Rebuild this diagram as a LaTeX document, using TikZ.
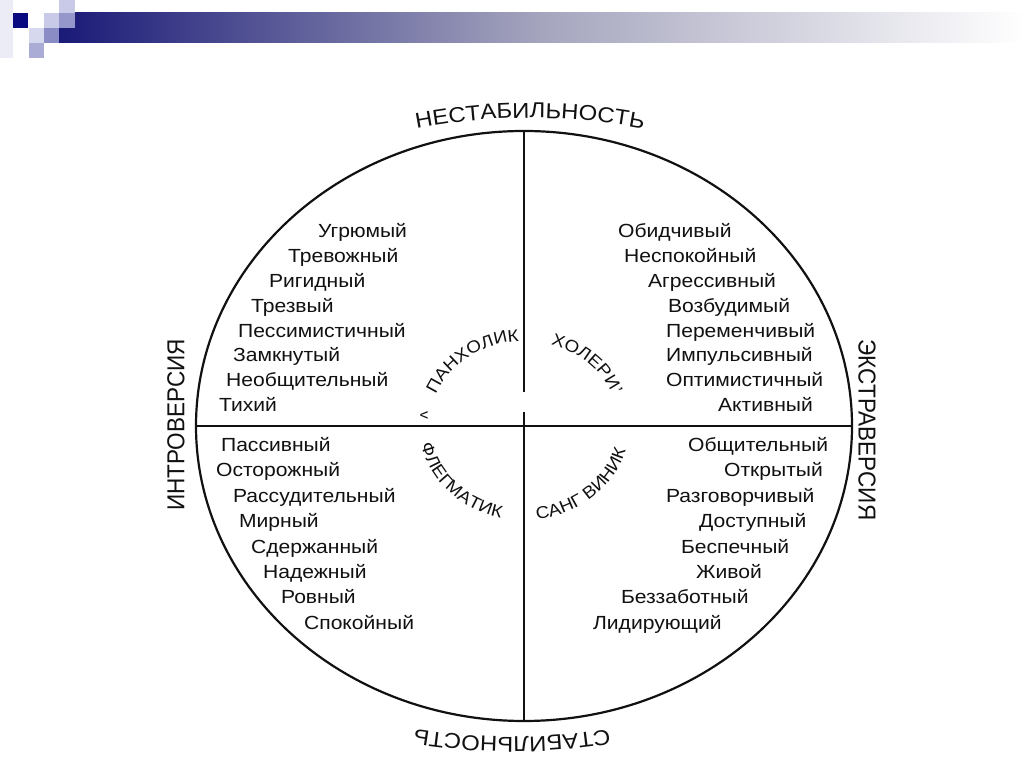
\documentclass[tikz,border=0pt]{standalone}
\usepackage{fontspec}
\setmainfont{Liberation Sans}[FakeStretch=1.11]
\newfontfamily\sidefont{Liberation Sans}[FakeStretch=0.92]
\usepackage{tikz}
\usetikzlibrary{decorations.text}
\definecolor{ink}{HTML}{111111}
\definecolor{navy}{HTML}{1A1A78}
\definecolor{deepnavy}{HTML}{0A0A80}
\definecolor{lilac}{HTML}{C8CAE8}
\definecolor{palelilac}{HTML}{D6D8EE}
\definecolor{mauve}{HTML}{9597CA}
\definecolor{faint}{HTML}{ECECF6}
\newcommand{\wordfont}{\fontsize{19}{19}\selectfont}
\newcommand{\ringfont}{\fontsize{17}{17}\selectfont}
\newcommand{\axisfont}{\fontsize{21.5}{22}\selectfont}
\tikzset{
  word/.style={anchor=base west,inner sep=0pt,font=\wordfont,text=ink},
  side/.style={inner sep=0pt,font=\sidefont\fontsize{24.5}{24.5}\selectfont,text=ink},
  ringtext/.style={decorate,decoration={text along path,text align=center,text color=ink,text={|\ringfont|#1}}},
  axistext/.style={decorate,decoration={text along path,text align=center,text color=ink,text={|\axisfont|#1}}},
}

\begin{document}
\begin{tikzpicture}[x=1pt,y=1pt,line width=2.2pt]
  \useasboundingbox (0,0) rectangle (1024,767);
  \fill[white] (0,0) rectangle (1024,767);
  \shade[left color=navy,right color=white,middle color={rgb,255:red,165;green,165;blue,190}] (59,724) rectangle (1024,754);
  \fill[faint] (0,709) rectangle (13,767);
  \fill[deepnavy] (13,739) rectangle (28,754);
  \fill[lilac] (44,739) rectangle (59,754);
  \fill[lilac] (59,754) rectangle (75,767);
  \fill[mauve] (59,739) rectangle (75,754);
  \fill[palelilac] (29,724) rectangle (44,739);
  \fill[mauve!110] (44,724) rectangle (59,739);
  \fill[mauve!80] (29,709) rectangle (44,724);

  \coordinate (c) at (524,341);
  \draw[ink] (c) ellipse (328 and 295);
  \draw[ink] (c) ++(-328,0) -- ++(656,0);
  \draw[ink] (c) ++(0,295) -- ++(0,-261);
  \draw[ink] (c) ++(0,14) -- ++(0,-309);

  \path[shift={(530,49)},axistext=НЕСТАБИЛЬНОСТЬ] (106:600) arc[start angle=106,end angle=74,radius=600];
  \path[shift={(512,630)},axistext=СТАБИЛЬНОСТЬ] (-74:600) arc[start angle=-74,end angle=-106,radius=600];
  \node[side,rotate=90] (intro) at (176,342) {ИНТРОВЕРСИЯ};
  \node[side,rotate=-90] (extra) at (867,337) {ЭКСТРАВЕРСИЯ};

  \path[shift={(c)},ringtext=ПАНХОЛИК] (166:95 and 85) arc[start angle=166,end angle=86,x radius=95,y radius=85];
  \path[shift={(c)},ringtext=ХОЛЕРИ'] (82:95 and 85) arc[start angle=82,end angle=12,x radius=95,y radius=85];
  \path[shift={(c)},ringtext=ФЛЕГМАТИК] (184:105 and 94) arc[start angle=184,end angle=264,x radius=105,y radius=94];
  \path[shift={(c)},ringtext=САНГ ВИНИК] (271:105 and 94) arc[start angle=271,end angle=352,x radius=105,y radius=94];
  \node[inner sep=0pt,font=\fontsize{14}{14}\selectfont,text=ink,rotate=-90] (mark) at (424,352) {v};

  \node[word] (ul1) at (317,529) {Угрюмый};
  \node[word] (ul2) at (287,504) {Тревожный};
  \node[word] (ul3) at (268,479) {Ригидный};
  \node[word] (ul4) at (250,454) {Трезвый};
  \node[word] (ul5) at (237,429) {Пессимистичный};
  \node[word] (ul6) at (232,405) {Замкнутый};
  \node[word] (ul7) at (225,380) {Необщительный};
  \node[word] (ul8) at (218,355) {Тихий};

  \node[word] (ur1) at (617,529) {Обидчивый};
  \node[word] (ur2) at (623,504) {Неспокойный};
  \node[word] (ur3) at (647,479) {Агрессивный};
  \node[word] (ur4) at (667,454) {Возбудимый};
  \node[word] (ur5) at (665,429) {Переменчивый};
  \node[word] (ur6) at (665,405) {Импульсивный};
  \node[word] (ur7) at (665,380) {Оптимистичный};
  \node[word] (ur8) at (717,355) {Активный};

  \node[word] (ll1) at (220,315) {Пассивный};
  \node[word] (ll2) at (215,290) {Осторожный};
  \node[word] (ll3) at (232,264) {Рассудительный};
  \node[word] (ll4) at (238,239) {Мирный};
  \node[word] (ll5) at (250,213) {Сдержанный};
  \node[word] (ll6) at (262,188) {Надежный};
  \node[word] (ll7) at (280,163) {Ровный};
  \node[word] (ll8) at (303,137) {Спокойный};

  \node[word] (lr1) at (687,315) {Общительный};
  \node[word] (lr2) at (723,290) {Открытый};
  \node[word] (lr3) at (665,264) {Разговорчивый};
  \node[word] (lr4) at (698,239) {Доступный};
  \node[word] (lr5) at (680,213) {Беспечный};
  \node[word] (lr6) at (695,188) {Живой};
  \node[word] (lr7) at (620,163) {Беззаботный};
  \node[word] (lr8) at (592,137) {Лидирующий};
\end{tikzpicture}
\end{document}
